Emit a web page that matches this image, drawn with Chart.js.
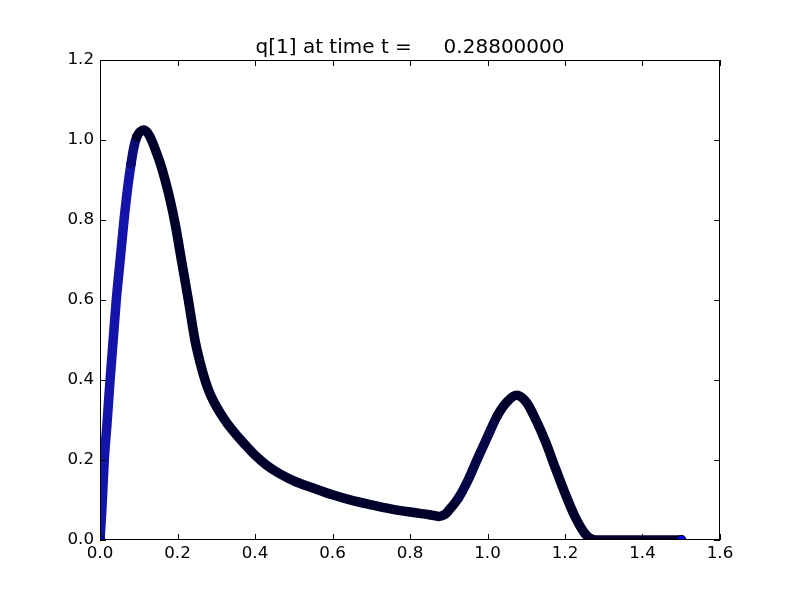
<!DOCTYPE html>
<html>
<head>
<meta charset="utf-8">
<script src="https://cdn.jsdelivr.net/npm/chart.js@4/dist/chart.umd.min.js"></script>
<style>
  html, body { margin: 0; padding: 0; background: #fff; }
  canvas { display: block; }
</style>
</head>
<body>
<canvas id="qChart" width="800" height="600"></canvas>
<script>
var xs = [0, 0.005, 0.011, 0.018, 0.026, 0.034, 0.042, 0.052, 0.062, 0.072, 0.08, 0.087,
          0.095, 0.104, 0.113, 0.122, 0.128, 0.136, 0.145, 0.155, 0.168, 0.181, 0.194,
          0.211, 0.228, 0.245, 0.258, 0.271, 0.282, 0.294, 0.31, 0.327, 0.35, 0.37, 0.4, 0.43,
          0.465, 0.5, 0.55, 0.6, 0.65, 0.7, 0.75, 0.8, 0.85, 0.875, 0.89, 0.9, 0.925,
          0.95, 0.975, 1.0, 1.025, 1.05, 1.075, 1.1, 1.125, 1.15, 1.175, 1.2, 1.225,
          1.25, 1.265, 1.28, 1.3, 1.35, 1.4, 1.45, 1.5];
var ys = [0, 0.08, 0.2, 0.29, 0.4, 0.5, 0.6, 0.7, 0.8, 0.885, 0.94, 0.98,
          1.008, 1.021, 1.025, 1.019, 1.01, 0.993, 0.97, 0.943, 0.9, 0.85, 0.79,
          0.695, 0.6, 0.5, 0.445, 0.4, 0.37, 0.345, 0.318, 0.293, 0.265, 0.243, 0.212, 0.187,
          0.165, 0.148, 0.13, 0.113, 0.099, 0.088, 0.078, 0.07, 0.063, 0.059, 0.064, 0.074, 0.105,
          0.15, 0.205, 0.258, 0.31, 0.345, 0.362, 0.345, 0.3, 0.245, 0.18, 0.117, 0.06,
          0.018, 0.004, 0, 0, 0, 0, 0, 0];
var xTicks = [0.0, 0.2, 0.4, 0.6, 0.8, 1.0, 1.2, 1.4, 1.6];
var yTicks = [0.0, 0.2, 0.4, 0.6, 0.8, 1.0, 1.2];
var titleText = "q[1] at time t =     0.28800000";

var points = xs.map(function (x, i) { return { x: x, y: ys[i] }; });

// matplotlib style frame with inward ticks on all four sides, plus the title
var frame = {
    id: "frame",
    afterDatasetsDraw: function (chart) {
        var c = chart.ctx, a = chart.chartArea;
        var sx = chart.scales.x, sy = chart.scales.y;
        c.save();
        c.strokeStyle = "#000";
        c.lineWidth = 1;
        c.strokeRect(a.left + 0.5, a.top + 0.5, a.right - a.left - 1, a.bottom - a.top - 1);
        c.beginPath();
        xTicks.forEach(function (v) {
            var p = Math.round(sx.getPixelForValue(v)) + 0.5;
            c.moveTo(p, a.bottom); c.lineTo(p, a.bottom - 6);
            c.moveTo(p, a.top); c.lineTo(p, a.top + 6);
        });
        yTicks.forEach(function (v) {
            var p = Math.round(sy.getPixelForValue(v)) + 0.5;
            c.moveTo(a.left, p); c.lineTo(a.left + 6, p);
            c.moveTo(a.right, p); c.lineTo(a.right - 6, p);
        });
        c.stroke();
        c.fillStyle = "#000";
        c.font = "20px 'DejaVu Sans'";
        c.textAlign = "center";
        c.textBaseline = "alphabetic";
        c.fillText(titleText, (a.left + a.right) / 2, a.top - 7);
        c.restore();
    }
};

var ctx = document.getElementById("qChart").getContext("2d");
var chart = new Chart(ctx, {
    type: "scatter",
    data: {
        datasets: [{
            data: points,
            showLine: true,
            cubicInterpolationMode: "monotone",
            borderWidth: 9.5,
            borderColor: "#00002a",
            borderCapStyle: "round",
            borderJoinStyle: "round",
            segment: {
                borderColor: function (s) {
                    var dx = s.p1.x - s.p0.x, dy = s.p0.y - s.p1.y;
                    var k = dy / Math.max(dx, 0.01);
                    if (k > 6) return "#1414aa";
                    if (k > 3) return "#0b0b78";
                    if (k > 1.5) return "#050548";
                    return "#00002a";
                }
            },
            pointRadius: function (c) {
                return (c.dataIndex === xs.length - 1 || c.dataIndex === 0) ? 4.7 : 0;
            },
            pointBackgroundColor: "#0000ff",
            pointBorderColor: "#000000",
            pointBorderWidth: 1
        }]
    },
    options: {
        responsive: false,
        animation: false,
        layout: { padding: { left: 0, right: 80, top: 60, bottom: 0 } },
        plugins: {
            legend: { display: false },
            tooltip: { enabled: false },
            title: { display: false }
        },
        scales: {
            x: {
                type: "linear",
                min: 0, max: 1.6,
                afterBuildTicks: function (s) { s.ticks = xTicks.map(function (v) { return { value: v }; }); },
                afterFit: function (s) { s.height = 60; },
                grid: { display: false, drawTicks: false },
                border: { display: false },
                ticks: {
                    color: "#000",
                    padding: 4,
                    maxRotation: 0,
                    font: { family: "DejaVu Sans", size: 16.7 },
                    callback: function (v) { return Number(v).toFixed(1); }
                }
            },
            y: {
                type: "linear",
                min: 0, max: 1.2,
                afterBuildTicks: function (s) { s.ticks = yTicks.map(function (v) { return { value: v }; }); },
                afterFit: function (s) { s.width = 100; },
                grid: { display: false, drawTicks: false },
                border: { display: false },
                ticks: {
                    color: "#000",
                    padding: 6,
                    font: { family: "DejaVu Sans", size: 16.7 },
                    callback: function (v) { return Number(v).toFixed(1); }
                }
            }
        }
    },
    plugins: [frame]
});
</script>
</body>
</html>
